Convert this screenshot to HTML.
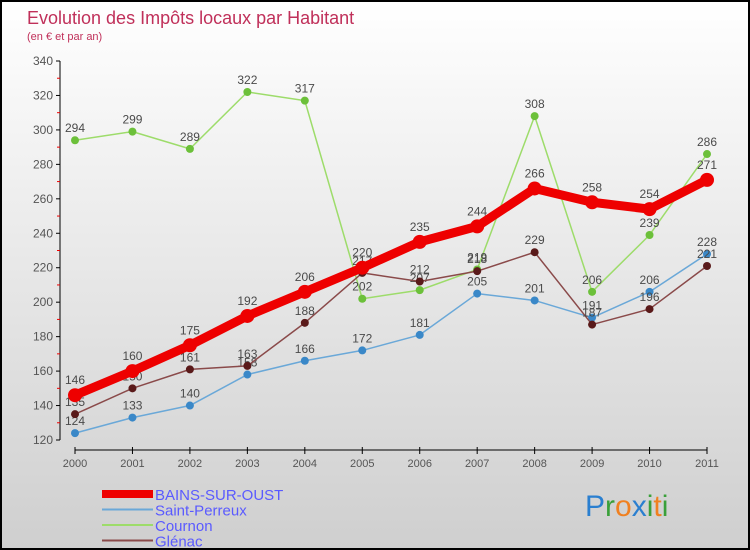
<!DOCTYPE html>
<html><head><meta charset="utf-8"><style>
body{margin:0;width:750px;height:550px;overflow:hidden;font-family:"Liberation Sans",sans-serif}
#wrap{position:relative;width:746px;height:546px;border:2px solid #000;background:linear-gradient(#fff,#cfcfcf)}
svg{position:absolute;left:0;top:0}
</style></head><body>
<div id="wrap">
<svg id="c" width="746" height="546">
<text x="25" y="22" font-size="18" fill="#c0305a">Evolution des Impôts locaux par Habitant</text>
<text x="25" y="38" font-size="11" fill="#c0305a">(en € et par an)</text>
</svg>
</div>
<script>
const years=["2000","2001","2002","2003","2004","2005","2006","2007","2008","2009","2010","2011"];
const bains=[146,160,175,192,206,220,235,244,266,258,254,271];
const perreux=[124,133,140,158,166,172,181,205,201,191,206,228];
const cournon=[294,299,289,322,317,202,207,219,308,206,239,286];
const glenac=[135,150,161,163,188,217,212,218,229,187,196,221];
const yTicks=[120,140,160,180,200,220,240,260,280,300,320,340];
const svg=document.getElementById('c');const NS='http://www.w3.org/2000/svg';
const X=i=>73+i*(632/11);const Y=v=>438-(v-120)*(379/220);
function mk(t,a,p){const e=document.createElementNS(NS,t);for(const k in a)e.setAttribute(k,a[k]);(p||svg).appendChild(e);return e;}
let ax=mk('line',{x1:58,y1:Y(340),x2:58,y2:Y(120),stroke:'#000'});

yTicks.forEach(v=>{mk('line',{x1:54,x2:58,y1:Y(v),y2:Y(v),stroke:'#000'});
 if(v<340)mk('line',{x1:55,x2:58,y1:Y(v+10),y2:Y(v+10),stroke:'#e00'});
 const t=mk('text',{x:51,y:Y(v)+4,'font-size':12,'text-anchor':'end',fill:'#555'});t.textContent=v;
 });
let xa=mk('line',{x1:73,x2:705,y1:448,y2:448,stroke:'#000'});

years.forEach((y,i)=>{mk('line',{x1:X(i),x2:X(i),y1:445,y2:452,stroke:'#000'});
 const t=mk('text',{x:X(i),y:465,'font-size':11,'text-anchor':'middle',fill:'#555'});t.textContent=y;
 });
function series(d,col,dot,w,r,name){const g=mk('g',{});
 mk('polyline',{points:d.map((v,i)=>X(i)+','+Y(v)).join(' '),fill:'none',stroke:col,'stroke-width':w,'stroke-linejoin':'round'},g);
 d.forEach((v,i)=>{const c=mk('circle',{cx:X(i),cy:Y(v),r:r,fill:dot},g);
  const t=mk('text',{x:X(i),y:Y(v)-(r+4),'font-size':12,'text-anchor':'middle',fill:'#4a4a4a'},g);t.textContent=v;
  });}
series(cournon,'#9ddc6a','#6cc03a',1.5,4,'cournon');
series(perreux,'#6aa8d8','#3a88c8',1.5,4,'saint-perreux');
series(glenac,'#8a4a4a','#5a1a1a',1.5,4,'glenac');
series(bains,'#ee0000','#ee0000',9,7,'bains-sur-oust');
const leg=[['BAINS-SUR-OUST','#ee0000',8],['Saint-Perreux','#6aa8d8',2],['Cournon','#9ddc6a',2],['Glénac','#8a4a4a',2]];
leg.forEach((l,i)=>{const g=mk('g',{});
 const y=492+i*15.5;mk('line',{x1:100,x2:151,y1:y,y2:y,stroke:l[1],'stroke-width':l[2]},g);
 const t=mk('text',{x:153,y:y+6,'font-size':15,fill:'#5a5aff'},g);t.textContent=l[0];});
const p=mk('text',{x:583,y:514,'font-size':30});
[['P','#2a7fd0'],['r','#3aa03a'],['o','#f08020'],['x','#2a7fd0'],['i','#3aa03a'],['t','#f08020'],['i','#3aa03a']].forEach(c=>{const s=mk('tspan',{fill:c[1]},p);s.textContent=c[0];});
</script>
</body></html>
